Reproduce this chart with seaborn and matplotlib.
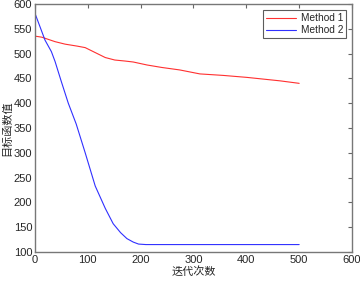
import matplotlib
matplotlib.use("Agg")
import matplotlib.pyplot as plt
import seaborn as sns
import pandas as pd

m1_x = [0, 1, 13, 38, 57, 80, 95, 114, 133, 151, 170, 186, 212, 240, 274, 312, 356, 401, 464, 500]
m1_y = [548, 535, 533, 524, 519, 515, 512, 502, 492, 487, 485, 483, 477, 472, 467, 459, 456, 452, 445, 440]
m2_x = [0, 19, 31, 38, 50, 63, 78, 95, 114, 133, 148, 162, 174, 186, 196, 210, 230, 300, 400, 500]
m2_y = [581, 527, 504, 484, 443, 400, 358, 300, 233, 188, 157, 139, 127, 120, 116, 115, 115, 115, 115, 115]
labels = ["Method 1", "Method 2"]
xticks = [0, 100, 200, 300, 400, 500, 600]
yticks = [100, 150, 200, 250, 300, 350, 400, 450, 500, 550, 600]

df = pd.concat([
    pd.DataFrame({"x": m1_x, "y": m1_y, "m": labels[0]}),
    pd.DataFrame({"x": m2_x, "y": m2_y, "m": labels[1]}),
])

sns.set_style("white")
plt.rcParams['font.family'] = ['Liberation Sans', 'Noto Sans CJK SC', 'DejaVu Sans']

fig = plt.figure(figsize=(3.6, 2.83), dpi=100)
ax = fig.add_axes([0.0972, 0.1095, 0.8806, 0.8765])
sns.lineplot(data=df, x="x", y="y", hue="m", palette={labels[0]: "#ff3030", labels[1]: "#3030ff"},
             linewidth=0.8, ax=ax, sort=False)
ax.set_xlim(0, 600)
ax.set_ylim(100, 600)
ax.set_xticks(xticks)
ax.set_yticks(yticks)
ax.tick_params(direction="in", length=3, width=0.8, color="#666666", labelsize=8,
               top=True, right=True, pad=2)
for s in ax.spines.values():
    s.set_color("#777777")
    s.set_linewidth(1.0)
ax.set_xlabel("迭代次数", family=['Noto Sans CJK SC'], fontsize=8, labelpad=1)
ax.set_ylabel("目标函数值", family=['Noto Sans CJK SC'], fontsize=8, labelpad=1)
leg = ax.legend(loc="upper right", fontsize=7.3, frameon=True, fancybox=False,
                borderaxespad=0.6, handlelength=3.0, borderpad=0.3, labelspacing=0.2,
                handletextpad=0.4)
leg.get_frame().set_edgecolor("#333333")
leg.get_frame().set_linewidth(0.8)
fig.savefig("out.png", dpi=100)
